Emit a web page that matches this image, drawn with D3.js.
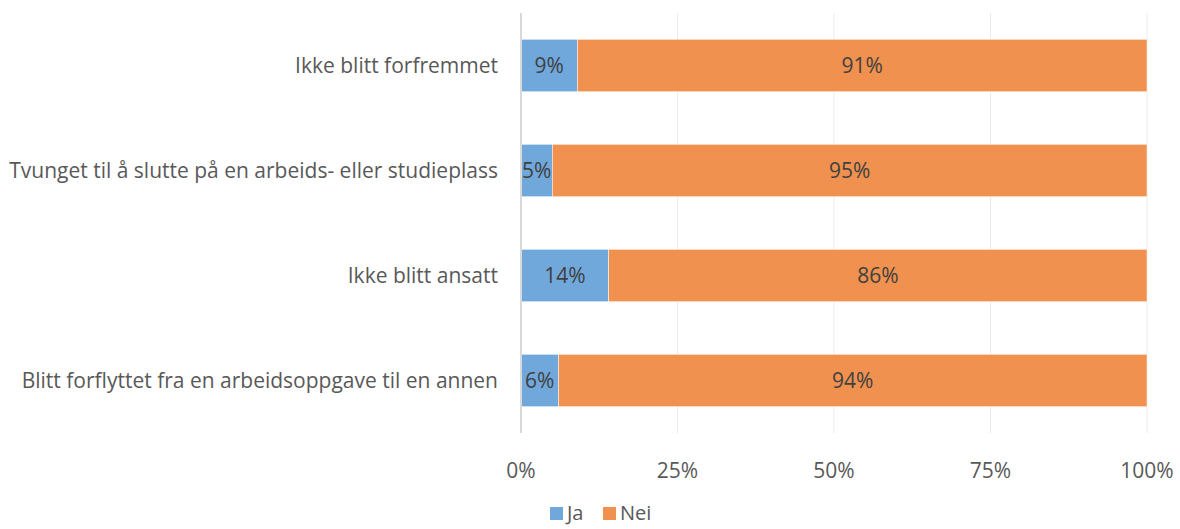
<!DOCTYPE html>
<html>
<head>
<meta charset="utf-8">
<script src="https://cdn.jsdelivr.net/npm/d3@7"></script>
<style>
  body { margin: 0; background: #fff; }
  text { font-family: "Open Sans", sans-serif; }
</style>
</head>
<body>
<div id="chart"></div>
<script>
// data
const categories = [
  "Ikke blitt forfremmet",
  "Tvunget til å slutte på en arbeids- eller studieplass",
  "Ikke blitt ansatt",
  "Blitt forflyttet fra en arbeidsoppgave til en annen"
]
const jaValues = [9, 5, 14, 6]
const neiValues = [91, 95, 86, 94]
const seriesNames = ["Ja", "Nei"]
const xTicks = [0, 25, 50, 75, 100]

const colors = ["#71a8dc", "#f0914f"]

function drawChart() {
  const dimensions = {
    width: 1180,
    height: 529,
    margin: { top: 13, right: 33, bottom: 96, left: 521 }
  }
  dimensions.boundedWidth = dimensions.width - dimensions.margin.left - dimensions.margin.right
  dimensions.boundedHeight = dimensions.height - dimensions.margin.top - dimensions.margin.bottom

  const wrapper = d3.select("#chart").append("svg")
    .attr("width", dimensions.width)
    .attr("height", dimensions.height)

  const bounds = wrapper.append("g")
    .attr("transform", `translate(${dimensions.margin.left},${dimensions.margin.top})`)

  const xScale = d3.scaleLinear()
    .domain([0, 100])
    .range([0, dimensions.boundedWidth])

  const yScale = d3.scaleBand()
    .domain(categories)
    .range([0, dimensions.boundedHeight])
    .paddingInner(0.5)
    .paddingOuter(0.25)

  // gridlines
  bounds.append("g")
    .selectAll("line")
    .data(xTicks.slice(1))
    .join("line")
      .attr("x1", d => xScale(d))
      .attr("x2", d => xScale(d))
      .attr("y1", 0)
      .attr("y2", dimensions.boundedHeight)
      .attr("stroke", "#ebebeb")
      .attr("stroke-width", 1)

  // stacked rows
  const rows = categories.map((c, i) => ({ cat: c, vals: [jaValues[i], neiValues[i]] }))
  const stacked = d3.stack().keys([0, 1]).value((d, k) => d.vals[k])(rows)

  stacked.forEach((layer, k) => {
    const g = bounds.append("g")
    g.selectAll("rect")
      .data(layer)
      .join("rect")
        .attr("x", d => xScale(d[0]))
        .attr("y", d => yScale(d.data.cat))
        .attr("width", d => xScale(d[1]) - xScale(d[0]))
        .attr("height", yScale.bandwidth())
        .attr("fill", colors[k])
        .attr("stroke", "#fff")
        .attr("stroke-width", 0.5)
    g.selectAll("text")
      .data(layer)
      .join("text")
        .attr("x", d => (xScale(d[0]) + xScale(d[1])) / 2)
        .attr("y", d => yScale(d.data.cat) + yScale.bandwidth() / 2)
        .attr("dy", "0.36em")
        .attr("text-anchor", "middle")
        .attr("font-size", 21)
        .attr("fill", "#404040")
        .text(d => (d[1] - d[0]) + "%")
  })

  // left axis line
  bounds.append("line")
    .attr("x1", 0).attr("x2", 0)
    .attr("y1", 0).attr("y2", dimensions.boundedHeight)
    .attr("stroke", "#d9d9d9")
    .attr("stroke-width", 2)

  // category labels
  bounds.append("g")
    .selectAll("text")
    .data(categories)
    .join("text")
      .attr("x", -23)
      .attr("y", d => yScale(d) + yScale.bandwidth() / 2)
      .attr("dy", "0.36em")
      .attr("text-anchor", "end")
      .attr("font-size", 21)
      .attr("fill", "#595959")
      .text(d => d)

  // x tick labels
  bounds.append("g")
    .selectAll("text")
    .data(xTicks)
    .join("text")
      .attr("x", d => xScale(d))
      .attr("y", dimensions.boundedHeight + 37)
      .attr("dy", "0.36em")
      .attr("text-anchor", "middle")
      .attr("font-size", 21)
      .attr("fill", "#595959")
      .text(d => d + "%")

  // legend
  const legend = wrapper.append("g")
  const legendX = [550, 603]
  seriesNames.forEach((name, k) => {
    legend.append("rect")
      .attr("x", legendX[k]).attr("y", 507)
      .attr("width", 13).attr("height", 13)
      .attr("fill", colors[k])
    legend.append("text")
      .attr("x", legendX[k] + 17).attr("y", 520)
      .attr("font-size", 20)
      .attr("fill", "#595959")
      .text(name)
  })
}

drawChart()
</script>
</body>
</html>
